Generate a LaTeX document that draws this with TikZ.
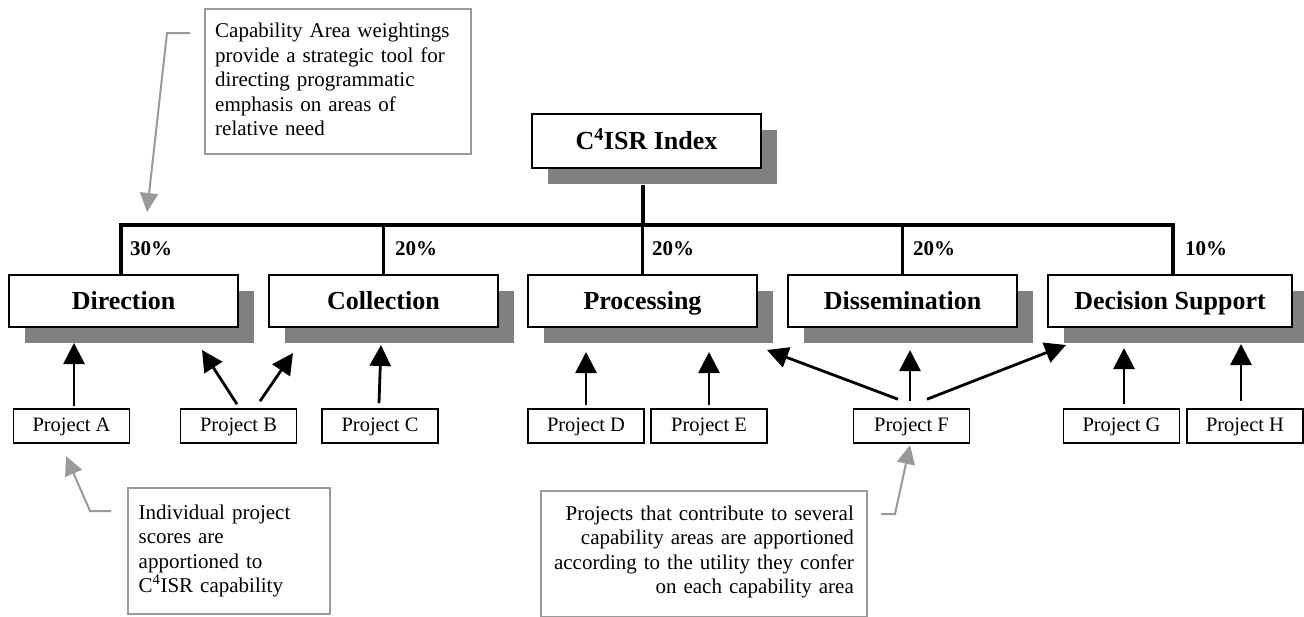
\documentclass[tikz,border=0pt]{standalone}
\usepackage{fontspec}
\setmainfont{Liberation Serif}
\usetikzlibrary{arrows.meta,shadows,calc}
\definecolor{shadowgray}{HTML}{808080}
\definecolor{callgray}{HTML}{9A9A9A}
\begin{document}
\begin{tikzpicture}[x=1pt,y=-1pt,
 catbox/.style={draw=black, line width=1.8pt, fill=white, minimum height=52pt, minimum width=229pt, inner sep=0pt,
   text height=21pt, text depth=4pt,
   font=\fontsize{26}{30}\selectfont\bfseries,
   drop shadow={shadow xshift=16pt, shadow yshift=-16pt, fill=shadowgray, opacity=1}},
 projbox/.style={draw=black, line width=1.6pt, minimum height=34pt, minimum width=116pt, inner sep=0pt,
   text height=15pt, text depth=5pt,
   font=\fontsize{20.5}{24}\selectfont},
 pct/.style={anchor=base west, inner sep=0pt, font=\fontsize{21}{24}\selectfont\bfseries},
 feed/.style={line width=2.8pt, -{Triangle[length=21pt,width=21pt]}},
 tree/.style={line width=3.5pt, line join=miter},
 callbox/.style={draw=callgray, line width=1.5pt, inner sep=0pt, anchor=north west},
 calltext/.style={inner sep=0pt, font=\fontsize{21}{24.5}\selectfont},
 callline/.style={draw=callgray, line width=2pt, -{Triangle[length=19pt,width=18pt]}, callgray},
]
\useasboundingbox (0,0) rectangle (1304,616);

% top index
\node[catbox, minimum height=54pt] (index) at (646.5,141) {C\textsuperscript{4}ISR Index};

% capability areas
\node[catbox] (dir) at (123.5,301) {Direction};
\node[catbox] (col) at (383.5,301) {Collection};
\node[catbox] (pro) at (642.5,301) {Processing};
\node[catbox] (dis) at (902.5,301) {Dissemination};
\node[catbox, minimum width=244pt] (dec) at (1170,301) {Decision Support};

% tree
\coordinate (bar) at (0,225);
\coordinate (idxbot) at ($(index.south)+(-3.5,16)$);
\draw[tree] (idxbot) -- (idxbot |- bar);
\draw[tree] ($(dir.north)+(-2.5,0)$) -- ($(dir.north |- bar)+(-2.5,0)$) -- ($(dec.north |- bar)+(3,0)$) -- ($(dec.north)+(3,0)$);
\draw[tree] (col.north) -- (col.north |- bar);
\draw[tree] (pro.north) -- (pro.north |- bar);
\draw[tree] (dis.north) -- (dis.north |- bar);

% percentages
\node[pct] (p1) at (130,255) {30\%};
\node[pct] (p2) at (395,255) {20\%};
\node[pct] (p3) at (652,255) {20\%};
\node[pct] (p4) at (913,255) {20\%};
\node[pct] (p5) at (1185,255) {10\%};

% projects
\node[projbox] (pA) at (71.5,426) {Project A};
\node[projbox] (pB) at (238.5,426) {Project B};
\node[projbox] (pC) at (380,426) {Project C};
\node[projbox] (pD) at (586,426) {Project D};
\node[projbox] (pE) at (709,426) {Project E};
\node[projbox] (pF) at (911.5,426) {Project F};
\node[projbox] (pG) at (1121.5,426) {Project G};
\node[projbox] (pH) at (1245,426) {Project H};

% arrow ends
\coordinate (tA) at (74,343);
\coordinate (tB1) at (202,350);
\coordinate (tB2) at (293,353);
\coordinate (tC) at (381,345);
\coordinate (tD) at (586,352);
\coordinate (tE) at (709,352);
\coordinate (tF1) at (767,350);
\coordinate (tF2) at (910,350);
\coordinate (tF3) at (1066,345);
\coordinate (tG) at (1124,348);
\coordinate (tH) at (1241,344);

\draw[feed] (pA.north -| tA) ++(0,-2) -- (tA);
\draw[feed] ($(pB.north)+(-1.5,-4)$) -- (tB1);
\draw[feed] ($(pB.north)+(21.5,-7)$) -- (tB2);
\draw[feed] ($(pC.north)+(-1,-5)$) -- (tC);
\draw[feed] (pD.north) ++(0,-3) -- (tD);
\draw[feed] (pE.north) ++(0,-3) -- (tE);
\draw[feed] ($(pF.north)+(-13.5,-9)$) -- (tF1);
\draw[feed] ($(pF.north)+(-1.5,-7)$) -- (tF2);
\draw[feed] ($(pF.north)+(15.5,-9)$) -- (tF3);
\draw[feed] ($(pG.north)+(2.5,-4)$) -- (tG);
\draw[feed] ($(pH.north)+(-4,-7)$) -- (tH);

% callouts
\node[callbox, minimum width=266pt, minimum height=145pt] (cb1) at (204,8) {};
\node[calltext, anchor=base west, text width=250pt, align=left] (ct1) at (215,37.5)
 {Capability Area weightings\\provide a strategic tool for\\directing programmatic\\emphasis on areas of\\relative need};
\coordinate (c1a) at (190,33);
\coordinate (c1b) at (167,33);
\coordinate (c1t) at (147,212);
\draw[callline] (c1a) -- (c1b) -- (c1t);

\node[callbox, minimum width=202pt, minimum height=126pt] (cb2) at (127,487) {};
\node[calltext, anchor=base west, text width=185pt, align=left] (ct2) at (138.5,519)
 {Individual project\\scores are\\apportioned to\\C\textsuperscript{4}ISR capability};
\coordinate (c2a) at (111,511);
\coordinate (c2b) at (90,511);
\coordinate (c2t) at (66,456);
\draw[callline] (c2a) -- (c2b) -- (c2t);

\node[callbox, minimum width=326pt, minimum height=126pt] (cb3) at (540,490) {};
\node[calltext, anchor=base east, text width=310pt, align=right] (ct3) at (854,520)
 {Projects that contribute to several\\capability areas are apportioned\\according to the utility they confer\\on each capability area};
\coordinate (c3a) at (881,514);
\coordinate (c3b) at (895,514);
\coordinate (c3t) at (910,445);
\draw[callline] (c3a) -- (c3b) -- (c3t);
\end{tikzpicture}
\end{document}
